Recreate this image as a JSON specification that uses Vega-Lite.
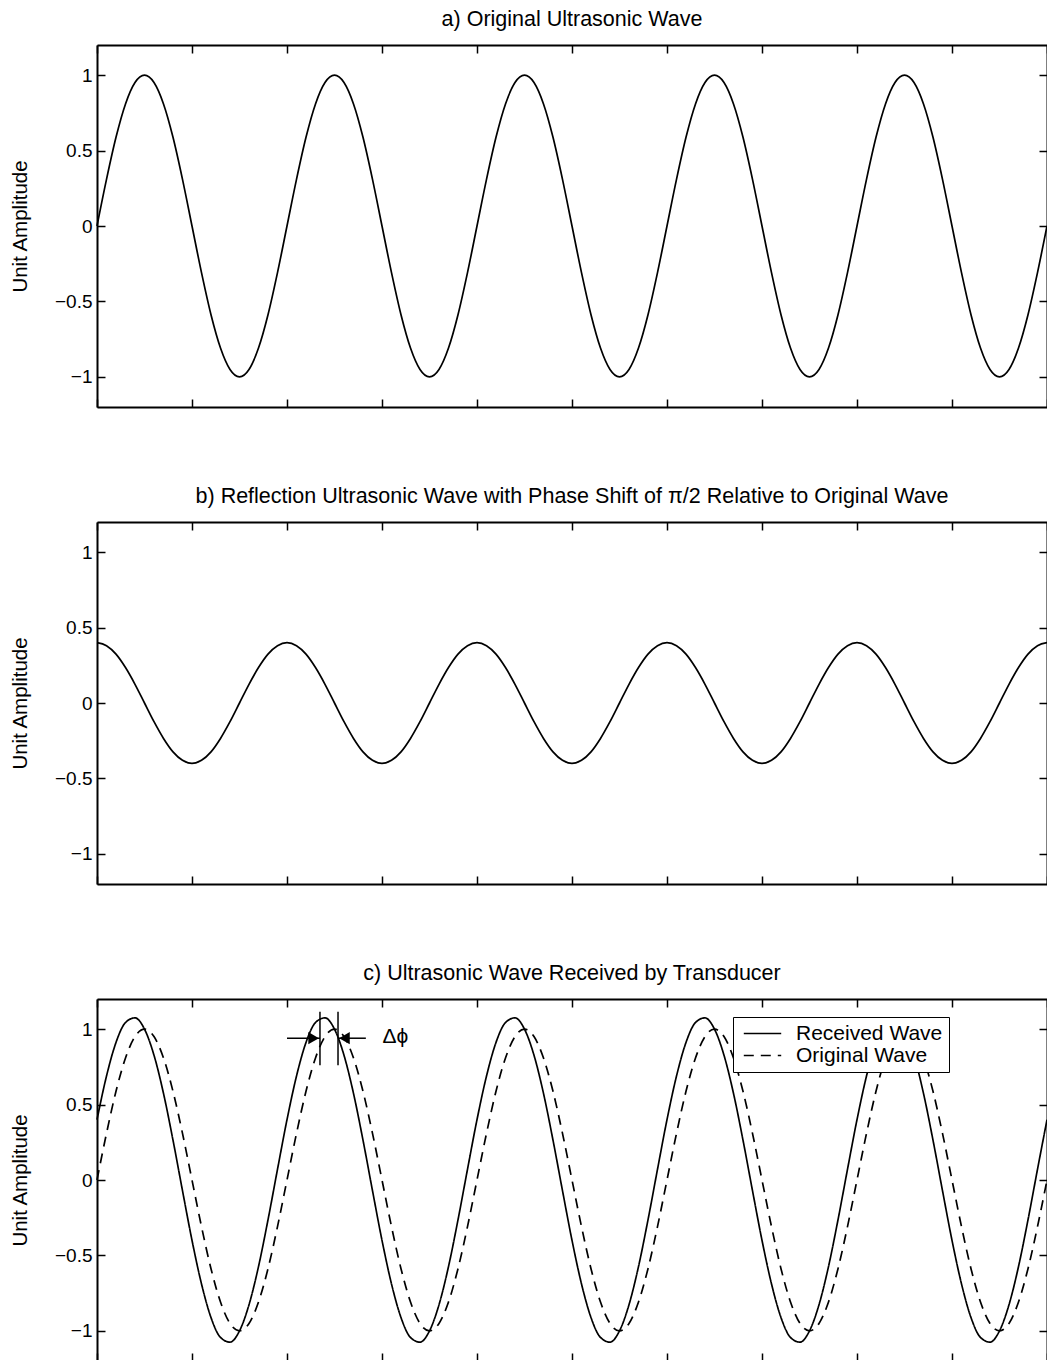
{
  "$schema": "https://vega.github.io/schema/vega-lite/v6.json",
  "padding": {"left": 10, "top": 8, "right": 0, "bottom": 0},
  "spacing": 77,
  "datasets": {
    "w": [
      {"x":0,"a":0,"b":0.4,"r":0.4},{"x":0.1,"a":0.309,"b":0.38,"r":0.689},{"x":0.2,"a":0.588,"b":0.324,"r":0.912},{"x":0.3,"a":0.809,"b":0.235,"r":1.044},{"x":0.4,"a":0.951,"b":0.124,"r":1.075},{"x":0.5,"a":1,"b":0,"r":1},{"x":0.6,"a":0.951,"b":-0.124,"r":0.827},{"x":0.7,"a":0.809,"b":-0.235,"r":0.574},{"x":0.8,"a":0.588,"b":-0.324,"r":0.264},{"x":0.9,"a":0.309,"b":-0.38,"r":-0.071},
      {"x":1,"a":0,"b":-0.4,"r":-0.4},{"x":1.1,"a":-0.309,"b":-0.38,"r":-0.689},{"x":1.2,"a":-0.588,"b":-0.324,"r":-0.912},{"x":1.3,"a":-0.809,"b":-0.235,"r":-1.044},{"x":1.4,"a":-0.951,"b":-0.124,"r":-1.075},{"x":1.5,"a":-1,"b":0,"r":-1},{"x":1.6,"a":-0.951,"b":0.124,"r":-0.827},{"x":1.7,"a":-0.809,"b":0.235,"r":-0.574},{"x":1.8,"a":-0.588,"b":0.324,"r":-0.264},{"x":1.9,"a":-0.309,"b":0.38,"r":0.071},
      {"x":2,"a":0,"b":0.4,"r":0.4},{"x":2.1,"a":0.309,"b":0.38,"r":0.689},{"x":2.2,"a":0.588,"b":0.324,"r":0.912},{"x":2.3,"a":0.809,"b":0.235,"r":1.044},{"x":2.4,"a":0.951,"b":0.124,"r":1.075},{"x":2.5,"a":1,"b":0,"r":1},{"x":2.6,"a":0.951,"b":-0.124,"r":0.827},{"x":2.7,"a":0.809,"b":-0.235,"r":0.574},{"x":2.8,"a":0.588,"b":-0.324,"r":0.264},{"x":2.9,"a":0.309,"b":-0.38,"r":-0.071},
      {"x":3,"a":0,"b":-0.4,"r":-0.4},{"x":3.1,"a":-0.309,"b":-0.38,"r":-0.689},{"x":3.2,"a":-0.588,"b":-0.324,"r":-0.912},{"x":3.3,"a":-0.809,"b":-0.235,"r":-1.044},{"x":3.4,"a":-0.951,"b":-0.124,"r":-1.075},{"x":3.5,"a":-1,"b":0,"r":-1},{"x":3.6,"a":-0.951,"b":0.124,"r":-0.827},{"x":3.7,"a":-0.809,"b":0.235,"r":-0.574},{"x":3.8,"a":-0.588,"b":0.324,"r":-0.264},{"x":3.9,"a":-0.309,"b":0.38,"r":0.071},
      {"x":4,"a":0,"b":0.4,"r":0.4},{"x":4.1,"a":0.309,"b":0.38,"r":0.689},{"x":4.2,"a":0.588,"b":0.324,"r":0.912},{"x":4.3,"a":0.809,"b":0.235,"r":1.044},{"x":4.4,"a":0.951,"b":0.124,"r":1.075},{"x":4.5,"a":1,"b":0,"r":1},{"x":4.6,"a":0.951,"b":-0.124,"r":0.827},{"x":4.7,"a":0.809,"b":-0.235,"r":0.574},{"x":4.8,"a":0.588,"b":-0.324,"r":0.264},{"x":4.9,"a":0.309,"b":-0.38,"r":-0.071},
      {"x":5,"a":0,"b":-0.4,"r":-0.4},{"x":5.1,"a":-0.309,"b":-0.38,"r":-0.689},{"x":5.2,"a":-0.588,"b":-0.324,"r":-0.912},{"x":5.3,"a":-0.809,"b":-0.235,"r":-1.044},{"x":5.4,"a":-0.951,"b":-0.124,"r":-1.075},{"x":5.5,"a":-1,"b":0,"r":-1},{"x":5.6,"a":-0.951,"b":0.124,"r":-0.827},{"x":5.7,"a":-0.809,"b":0.235,"r":-0.574},{"x":5.8,"a":-0.588,"b":0.324,"r":-0.264},{"x":5.9,"a":-0.309,"b":0.38,"r":0.071},
      {"x":6,"a":0,"b":0.4,"r":0.4},{"x":6.1,"a":0.309,"b":0.38,"r":0.689},{"x":6.2,"a":0.588,"b":0.324,"r":0.912},{"x":6.3,"a":0.809,"b":0.235,"r":1.044},{"x":6.4,"a":0.951,"b":0.124,"r":1.075},{"x":6.5,"a":1,"b":0,"r":1},{"x":6.6,"a":0.951,"b":-0.124,"r":0.827},{"x":6.7,"a":0.809,"b":-0.235,"r":0.574},{"x":6.8,"a":0.588,"b":-0.324,"r":0.264},{"x":6.9,"a":0.309,"b":-0.38,"r":-0.071},
      {"x":7,"a":0,"b":-0.4,"r":-0.4},{"x":7.1,"a":-0.309,"b":-0.38,"r":-0.689},{"x":7.2,"a":-0.588,"b":-0.324,"r":-0.912},{"x":7.3,"a":-0.809,"b":-0.235,"r":-1.044},{"x":7.4,"a":-0.951,"b":-0.124,"r":-1.075},{"x":7.5,"a":-1,"b":0,"r":-1},{"x":7.6,"a":-0.951,"b":0.124,"r":-0.827},{"x":7.7,"a":-0.809,"b":0.235,"r":-0.574},{"x":7.8,"a":-0.588,"b":0.324,"r":-0.264},{"x":7.9,"a":-0.309,"b":0.38,"r":0.071},
      {"x":8,"a":0,"b":0.4,"r":0.4},{"x":8.1,"a":0.309,"b":0.38,"r":0.689},{"x":8.2,"a":0.588,"b":0.324,"r":0.912},{"x":8.3,"a":0.809,"b":0.235,"r":1.044},{"x":8.4,"a":0.951,"b":0.124,"r":1.075},{"x":8.5,"a":1,"b":0,"r":1},{"x":8.6,"a":0.951,"b":-0.124,"r":0.827},{"x":8.7,"a":0.809,"b":-0.235,"r":0.574},{"x":8.8,"a":0.588,"b":-0.324,"r":0.264},{"x":8.9,"a":0.309,"b":-0.38,"r":-0.071},
      {"x":9,"a":0,"b":-0.4,"r":-0.4},{"x":9.1,"a":-0.309,"b":-0.38,"r":-0.689},{"x":9.2,"a":-0.588,"b":-0.324,"r":-0.912},{"x":9.3,"a":-0.809,"b":-0.235,"r":-1.044},{"x":9.4,"a":-0.951,"b":-0.124,"r":-1.075},{"x":9.5,"a":-1,"b":0,"r":-1},{"x":9.6,"a":-0.951,"b":0.124,"r":-0.827},{"x":9.7,"a":-0.809,"b":0.235,"r":-0.574},{"x":9.8,"a":-0.588,"b":0.324,"r":-0.264},{"x":9.9,"a":-0.309,"b":0.38,"r":0.071},
      {"x":10,"a":0,"b":0.4,"r":0.4}
    ],
    "vlines": [{"x":2.347,"y":0.76,"y2":1.115},{"x":2.537,"y":0.76,"y2":1.115}],
    "hlines": [{"x":2.0,"x2":2.347,"y":0.94},{"x":2.537,"x2":2.83,"y":0.94}],
    "heads": [{"x":2.28,"y":0.94,"dir":"right"},{"x":2.605,"y":0.94,"dir":"left"}],
    "label": [{"x":3.14,"y":0.95,"t":"Δϕ"}]
  },
  "vconcat": [
    {
      "width": 950, "height": 362,
      "title": "a) Original Ultrasonic Wave",
      "data": {"name": "w"},
      "layer": [
        {"mark": {"type": "line", "color": "black", "strokeWidth": 1.7, "interpolate": "monotone"},
         "encoding": {
           "x": {"field": "x", "type": "quantitative", "scale": {"domain": [0, 10], "nice": false}, "axis": {"orient": "bottom", "values": [0,1,2,3,4,5,6,7,8,9,10], "labels": false, "title": null}},
           "y": {"field": "a", "type": "quantitative", "scale": {"domain": [-1.2, 1.2], "nice": false, "zero": false}, "axis": {"orient": "left", "values": [-1,-0.5,0,0.5,1], "format": "~g", "title": "Unit Amplitude"}}
         }},
        {"mark": {"type": "line", "strokeOpacity": 0},
         "encoding": {
           "x": {"field": "x", "type": "quantitative", "axis": {"orient": "top", "values": [0,1,2,3,4,5,6,7,8,9,10], "labels": false, "title": null}},
           "y": {"field": "a", "type": "quantitative", "axis": {"orient": "right", "values": [-1,-0.5,0,0.5,1], "labels": false, "title": null}}
         }}
      ],
      "resolve": {"axis": {"x": "independent", "y": "independent"}}
    },
    {
      "width": 950, "height": 362,
      "title": "b) Reflection Ultrasonic Wave with Phase Shift of π/2 Relative to Original Wave",
      "data": {"name": "w"},
      "layer": [
        {"mark": {"type": "line", "color": "black", "strokeWidth": 1.7, "interpolate": "monotone"},
         "encoding": {
           "x": {"field": "x", "type": "quantitative", "scale": {"domain": [0, 10], "nice": false}, "axis": {"orient": "bottom", "values": [0,1,2,3,4,5,6,7,8,9,10], "labels": false, "title": null}},
           "y": {"field": "b", "type": "quantitative", "scale": {"domain": [-1.2, 1.2], "nice": false, "zero": false}, "axis": {"orient": "left", "values": [-1,-0.5,0,0.5,1], "format": "~g", "title": "Unit Amplitude"}}
         }},
        {"mark": {"type": "line", "strokeOpacity": 0},
         "encoding": {
           "x": {"field": "x", "type": "quantitative", "axis": {"orient": "top", "values": [0,1,2,3,4,5,6,7,8,9,10], "labels": false, "title": null}},
           "y": {"field": "b", "type": "quantitative", "axis": {"orient": "right", "values": [-1,-0.5,0,0.5,1], "labels": false, "title": null}}
         }}
      ],
      "resolve": {"axis": {"x": "independent", "y": "independent"}}
    },
    {
      "width": 950, "height": 362,
      "title": "c) Ultrasonic Wave Received by Transducer",
      "layer": [
        {"data": {"name": "w"},
         "transform": [{"fold": ["r", "a"], "as": ["series", "value"]}],
         "mark": {"type": "line", "color": "black", "strokeWidth": 1.7, "interpolate": "monotone"},
         "encoding": {
           "x": {"field": "x", "type": "quantitative", "scale": {"domain": [0, 10], "nice": false}, "axis": {"orient": "bottom", "values": [0,1,2,3,4,5,6,7,8,9,10], "labels": false, "title": null}},
           "y": {"field": "value", "type": "quantitative", "scale": {"domain": [-1.2, 1.2], "nice": false, "zero": false}, "axis": {"orient": "left", "values": [-1,-0.5,0,0.5,1], "format": "~g", "title": "Unit Amplitude"}},
           "strokeDash": {"field": "series", "type": "nominal", "scale": {"domain": ["r", "a"], "range": [[1, 0], [10, 7]]},
             "legend": {"title": null, "orient": "none", "legendX": 636, "legendY": 972, "strokeColor": "black", "fillColor": "white", "padding": 6, "labelFontSize": 21, "labelFont": "Liberation Sans", "labelColor": "black", "symbolType": "stroke", "symbolSize": 1400, "symbolStrokeWidth": 1.5, "symbolStrokeColor": "black", "symbolOffset": 4, "labelOffset": 14, "rowPadding": 0, "clipHeight": 21, "labelExpr": "datum.label == 'r' ? 'Received Wave' : 'Original Wave'"}}
         }},
        {"data": {"name": "w"},
         "mark": {"type": "line", "strokeOpacity": 0},
         "encoding": {
           "x": {"field": "x", "type": "quantitative", "axis": {"orient": "top", "values": [0,1,2,3,4,5,6,7,8,9,10], "labels": false, "title": null}},
           "y": {"field": "a", "type": "quantitative", "axis": {"orient": "right", "values": [-1,-0.5,0,0.5,1], "labels": false, "title": null}}
         }},
        {"data": {"name": "vlines"},
         "mark": {"type": "rule", "color": "black", "strokeWidth": 1.5},
         "encoding": {
           "x": {"field": "x", "type": "quantitative", "axis": null},
           "y": {"field": "y", "type": "quantitative", "axis": null},
           "y2": {"field": "y2"}
         }},
        {"data": {"name": "hlines"},
         "mark": {"type": "rule", "color": "black", "strokeWidth": 1.5},
         "encoding": {
           "x": {"field": "x", "type": "quantitative", "axis": null},
           "x2": {"field": "x2"},
           "y": {"field": "y", "type": "quantitative", "axis": null}
         }},
        {"data": {"name": "heads"},
         "mark": {"type": "point", "filled": true, "color": "black", "opacity": 1, "size": 150},
         "encoding": {
           "x": {"field": "x", "type": "quantitative", "axis": null},
           "y": {"field": "y", "type": "quantitative", "axis": null},
           "shape": {"field": "dir", "type": "nominal", "scale": {"domain": ["right", "left"], "range": ["triangle-right", "triangle-left"]}, "legend": null}
         }},
        {"data": {"name": "label"},
         "mark": {"type": "text", "fontSize": 21, "font": "Liberation Sans", "color": "black", "align": "center", "baseline": "middle"},
         "encoding": {
           "x": {"field": "x", "type": "quantitative", "axis": null},
           "y": {"field": "y", "type": "quantitative", "axis": null},
           "text": {"field": "t"}
         }}
      ],
      "resolve": {"axis": {"x": "independent", "y": "independent"}}
    }
  ],
  "config": {
    "view": {"stroke": null},
    "title": {"font": "Liberation Sans", "fontSize": 21.5, "fontWeight": "normal", "color": "black", "anchor": "middle", "offset": 14},
    "axis": {"grid": false, "domainColor": "black", "domainWidth": 2, "tickColor": "black", "tickWidth": 1.5, "tickSize": -8, "labelFont": "Liberation Sans", "labelFontSize": 19, "labelColor": "black", "labelPadding": 13, "titleFont": "Liberation Sans", "titleFontSize": 20.5, "titleFontWeight": "normal", "titleColor": "black", "titlePadding": 24}
  }
}
